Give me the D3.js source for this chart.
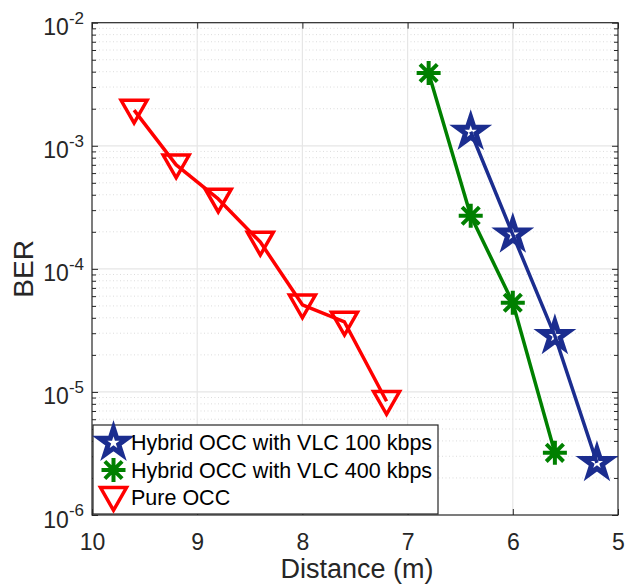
<!DOCTYPE html>
<html>
<head>
<meta charset="utf-8">
<script src="https://cdn.jsdelivr.net/npm/d3@7"></script>
<style>
  body { margin: 0; background: #fff; }
  svg { display: block; font-family: "Liberation Sans", Arial, sans-serif; }
</style>
</head>
<body>
<div id="chart"></div>
<script>
// data
const dist100 = [6.4, 6.0, 5.6, 5.2];
const ber100 = [1.3e-3, 1.9e-4, 2.85e-5, 2.65e-6];
const dist400 = [6.8, 6.4, 6.0, 5.6];
const ber400 = [3.9e-3, 2.7e-4, 5.3e-5, 3.2e-6];
const distOCC = [9.6, 9.2, 8.8, 8.4, 8.0, 7.6, 7.2];
const berOCC = [1.95e-3, 7.0e-4, 3.7e-4, 1.65e-4, 5.1e-5, 3.7e-5, 8.4e-6];

const seriesNames = ["Hybrid OCC with VLC 100 kbps", "Hybrid OCC with VLC 400 kbps", "Pure OCC"];
const xTicks = [10, 9, 8, 7, 6, 5];
const yTicks = [1e-6, 1e-5, 1e-4, 1e-3, 1e-2];

const svgWidth = 625, svgHeight = 585;
const margin = { top: 22.7, right: 7, bottom: 70, left: 92 };
const width = svgWidth - margin.left - margin.right;
const height = svgHeight - margin.top - margin.bottom;
const axisColor = "#262626";

const svg = d3.select("#chart").append("svg")
  .attr("width", svgWidth)
  .attr("height", svgHeight);

const g = svg.append("g")
  .attr("transform", `translate(${margin.left},${margin.top})`);

const x = d3.scaleLinear().domain([10, 5]).range([0, width]);
const y = d3.scaleLog().domain([1e-6, 1e-2]).range([height, 0]);

// minor ticks on log axis
const yMinor = [];
yTicks.slice(0, -1).forEach(d => {
  for (let k = 2; k <= 9; k++) yMinor.push(k * d);
});

// grid
const grid = g.append("g");
grid.selectAll(".minor").data(yMinor).enter().append("line")
  .attr("x1", 0).attr("x2", width)
  .attr("y1", d => y(d)).attr("y2", d => y(d))
  .attr("stroke", "#dcdcdc").attr("stroke-width", 1)
  .attr("stroke-dasharray", "1,2.5");
grid.selectAll(".ymaj").data(yTicks.slice(1, -1)).enter().append("line")
  .attr("x1", 0).attr("x2", width)
  .attr("y1", d => y(d)).attr("y2", d => y(d))
  .attr("stroke", "#e6e6e6").attr("stroke-width", 1.2);
grid.selectAll(".xmaj").data(xTicks.slice(1, -1)).enter().append("line")
  .attr("x1", d => x(d)).attr("x2", d => x(d))
  .attr("y1", 0).attr("y2", height)
  .attr("stroke", "#e6e6e6").attr("stroke-width", 1.2);

// axes (ticks inside, box on)
function styleAxis(sel) {
  sel.select(".domain").remove();
  sel.selectAll(".tick line").attr("stroke", axisColor).attr("stroke-width", 1);
  sel.selectAll("text").attr("fill", axisColor);
}

const xAxis = g.append("g")
  .attr("transform", `translate(0,${height})`)
  .call(d3.axisBottom(x).tickValues(xTicks).tickSizeInner(-6).tickSizeOuter(0)
    .tickPadding(19).tickFormat(d3.format("d")));
xAxis.selectAll("text").attr("font-size", 23);
styleAxis(xAxis);

g.append("g")
  .call(d3.axisTop(x).tickValues(xTicks).tickSizeInner(-6).tickSizeOuter(0).tickFormat(""))
  .call(styleAxis);

const yAxis = g.append("g")
  .call(d3.axisLeft(y).tickValues(yTicks).tickSizeInner(-6).tickSizeOuter(0).tickPadding(8));
yAxis.selectAll(".tick text")
  .attr("dy", null)
  .each(function (d) {
    const t = d3.select(this).text(null).attr("font-size", 23);
    t.append("tspan").attr("dy", 12).text("10");
    t.append("tspan").attr("dy", -11.5).attr("font-size", 17)
      .text(String(Math.round(Math.log10(d))));
  });
styleAxis(yAxis);

g.append("g")
  .call(d3.axisLeft(y).tickValues(yMinor).tickSizeInner(-4).tickSizeOuter(0).tickFormat(""))
  .call(styleAxis);
g.append("g")
  .attr("transform", `translate(${width},0)`)
  .call(d3.axisRight(y).tickValues(yTicks).tickSizeInner(-6).tickSizeOuter(0).tickFormat(""))
  .call(styleAxis);
g.append("g")
  .attr("transform", `translate(${width},0)`)
  .call(d3.axisRight(y).tickValues(yMinor).tickSizeInner(-4).tickSizeOuter(0).tickFormat(""))
  .call(styleAxis);

g.append("rect")
  .attr("width", width).attr("height", height)
  .attr("fill", "none").attr("stroke", axisColor).attr("stroke-width", 1.2);

// axis titles
svg.append("text")
  .attr("x", margin.left + width / 2 + 2)
  .attr("y", 578)
  .attr("text-anchor", "middle")
  .attr("font-size", 27)
  .attr("fill", axisColor)
  .text("Distance (m)");

svg.append("text")
  .attr("transform", `translate(33,${margin.top + height / 2})rotate(-90)`)
  .attr("text-anchor", "middle")
  .attr("font-size", 28)
  .attr("fill", axisColor)
  .text("BER");

// markers
function starPath(R) {
  const r = R * 0.382;
  const pts = [];
  for (let i = 0; i < 10; i++) {
    const a = -Math.PI / 2 + i * Math.PI / 5;
    const rr = i % 2 === 0 ? R : r;
    pts.push([rr * Math.cos(a), rr * Math.sin(a)]);
  }
  return "M" + pts.map(p => p.join(",")).join("L") + "Z";
}
function asteriskPath(R) {
  const d = R * 0.72;
  return `M${-R},0L${R},0M0,${-R}L0,${R}M${-d},${-d}L${d},${d}M${-d},${d}L${d},${-d}`;
}
function triDownPath(s) {
  return `M${-s},${-s * 0.75}L${s},${-s * 0.75}L0,${s}Z`;
}

const series = [
  { name: seriesNames[0], xs: dist100, ys: ber100, color: "#1b2d8f", marker: starPath(14.5), sw: 5 },
  { name: seriesNames[1], xs: dist400, ys: ber400, color: "#008000", marker: asteriskPath(12), sw: 4 },
  { name: seriesNames[2], xs: distOCC, ys: berOCC, color: "#ff0000", marker: triDownPath(13), sw: 3.5 }
];

const line = d3.line().x(d => x(d[0])).y(d => y(d[1]));

series.forEach(s => {
  const pts = s.xs.map((v, i) => [v, s.ys[i]]);
  g.append("path")
    .datum(pts)
    .attr("d", line)
    .attr("fill", "none")
    .attr("stroke", s.color)
    .attr("stroke-width", 3.5)
    .attr("stroke-linejoin", "round");
  g.selectAll(null).data(pts).enter().append("path")
    .attr("transform", d => `translate(${x(d[0])},${y(d[1])})`)
    .attr("d", s.marker)
    .attr("fill", "none")
    .attr("stroke", s.color)
    .attr("stroke-width", s.sw)
    .attr("stroke-linejoin", "miter");
});

// legend
const legend = svg.append("g").attr("transform", "translate(93,425)");
legend.append("rect")
  .attr("width", 345).attr("height", 89)
  .attr("fill", "#fff").attr("stroke", axisColor).attr("stroke-width", 1.2);

const items = legend.selectAll(".item").data(series).enter().append("g")
  .attr("transform", (d, i) => `translate(0,${17.7 + i * 27.3})`);
items.append("path")
  .attr("transform", "translate(20.5,0)")
  .attr("d", d => d.marker)
  .attr("fill", "none")
  .attr("stroke", d => d.color)
  .attr("stroke-width", d => d.sw);
items.append("text")
  .attr("x", 38)
  .attr("y", 7.5)
  .attr("font-size", 21.5)
  .attr("fill", "#000")
  .text(d => d.name);
</script>
</body>
</html>
